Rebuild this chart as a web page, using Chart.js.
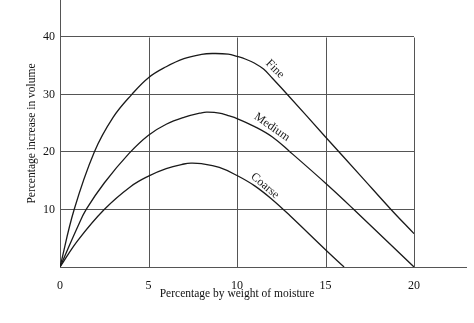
<!DOCTYPE html>
<html>
<head>
<meta charset="utf-8">
<script src="https://cdn.jsdelivr.net/npm/chart.js@4"></script>
<style>
  html, body { margin: 0; padding: 0; background: #fff; }
  canvas { display: block; }
</style>
</head>
<body>
<canvas id="chart" width="474" height="323"></canvas>
<script>
// axis ticks
const xTicks = [0, 5, 10, 15, 20];
const yTicks = [0, 10, 20, 30, 40];

// curves (moisture %, volume increase %)
const fineX = [0, 0.8, 1.94, 3, 4.06, 5, 6, 7, 8, 8.6, 9.5, 10, 10.5, 11, 11.5, 12, 12.87, 15, 17, 18.7, 20];
const fineY = [0, 10, 20, 26, 30, 32.9, 34.8, 36.2, 36.95, 37.1, 37.0, 36.6, 36.1, 35.4, 34.4, 32.8, 29.9, 22.6, 15.8, 10, 5.8];

const mediumX = [0, 1, 1.48, 2.5, 3.89, 5, 6, 7, 8, 8.3, 9, 9.5, 10, 11, 12, 13, 15.1, 16.6, 20];
const mediumY = [0, 7, 10, 14.6, 19.7, 22.9, 24.8, 26.0, 26.8, 26.9, 26.75, 26.3, 25.8, 24.4, 22.6, 20.0, 14.3, 10, 0];

const coarseX = [0, 1, 2.5, 4, 5, 6, 7, 7.4, 8, 9, 10, 11, 12, 13, 15, 16.05];
const coarseY = [0, 4.6, 10, 14.0, 15.8, 17.1, 17.9, 18.05, 17.95, 17.3, 15.9, 14.1, 11.7, 8.9, 3.0, 0];

const seriesNames = ['Fine', 'Medium', 'Coarse'];

const ink = '#1a1a1a';
const gridInk = '#555';
const serif = 'Liberation Serif';

const toPoints = (xs, ys) => xs.map((x, i) => ({ x: x, y: ys[i] }));

const makeSet = (name, xs, ys) => ({
    label: name,
    data: toPoints(xs, ys),
    borderColor: ink,
    borderWidth: 1.3,
    pointRadius: 0,
    fill: false,
    tension: 0.4
});

// grid only up to x=20 / y=40, axis lines run past them
const framePlugin = {
    id: 'frame',
    beforeDatasetsDraw(chart) {
        const { ctx, chartArea, scales: { x, y } } = chart;
        ctx.save();
        ctx.strokeStyle = gridInk;
        ctx.lineWidth = 1;
        const yTop = Math.round(y.getPixelForValue(yTicks[yTicks.length - 1])) + 0.5;
        const yBot = Math.round(y.getPixelForValue(0)) + 0.5;
        xTicks.slice(1).forEach(v => {
            const px = Math.round(x.getPixelForValue(v)) + 0.5;
            ctx.beginPath();
            ctx.moveTo(px, yTop);
            ctx.lineTo(px, yBot);
            ctx.stroke();
        });
        // x axis runs on past 20
        ctx.beginPath();
        ctx.moveTo(chartArea.right, yBot);
        ctx.lineTo(chartArea.right + 53, yBot);
        ctx.stroke();
        ctx.restore();
    },
    afterDatasetsDraw(chart, args, opts) {
        const { ctx, scales: { x, y } } = chart;
        ctx.save();
        ctx.fillStyle = ink;
        ctx.font = '12px "' + serif + '"';
        ctx.textAlign = 'center';
        ctx.textBaseline = 'middle';
        opts.labels.forEach(l => {
            ctx.save();
            ctx.translate(x.getPixelForValue(l.x), y.getPixelForValue(l.y));
            ctx.rotate(l.angle * Math.PI / 180);
            ctx.fillText(l.text, 0, 0);
            ctx.restore();
        });
        ctx.restore();
    }
};

const ctx = document.getElementById('chart').getContext('2d');
new Chart(ctx, {
    type: 'line',
    data: {
        datasets: [
            makeSet(seriesNames[0], fineX, fineY),
            makeSet(seriesNames[1], mediumX, mediumY),
            makeSet(seriesNames[2], coarseX, coarseY)
        ]
    },
    options: {
        responsive: false,
        animation: false,
        layout: { padding: { left: 0, right: 60, top: 0, bottom: 0 } },
        scales: {
            x: {
                type: 'linear',
                min: 0,
                max: 20,
                afterBuildTicks: s => { s.ticks = xTicks.map(v => ({ value: v })); },
                afterFit: s => { s.height = 56; },
                grid: { display: false },
                border: { display: true, color: gridInk, width: 1 },
                ticks: {
                    color: '#111',
                    padding: 4,
                    maxRotation: 0,
                    font: { family: serif, size: 12 }
                },
                title: {
                    display: true,
                    text: 'Percentage by weight of moisture',
                    color: '#111',
                    padding: { top: 0, bottom: 22 },
                    font: { family: serif, size: 11.5 }
                }
            },
            y: {
                min: 0,
                max: 46.4,
                afterBuildTicks: s => { s.ticks = yTicks.map(v => ({ value: v })); },
                afterFit: s => { s.width = 60; s.paddingTop = 0; s.paddingBottom = 0; },
                grid: { color: gridInk, lineWidth: 1, drawTicks: false },
                border: { display: true, color: gridInk, width: 1 },
                ticks: {
                    color: '#111',
                    padding: 5,
                    callback: v => (v === 0 ? '' : v),
                    font: { family: serif, size: 12 }
                },
                title: {
                    display: true,
                    text: 'Percentage increase in volume',
                    color: '#111',
                    padding: { top: 25, bottom: 0 },
                    font: { family: serif, size: 11.5 }
                }
            }
        },
        plugins: {
            legend: { display: false },
            tooltip: { enabled: false },
            frame: {
                labels: [
                    { text: seriesNames[0], x: 12.15, y: 34.4, angle: 45 },
                    { text: seriesNames[1], x: 11.98, y: 24.3, angle: 35 },
                    { text: seriesNames[2], x: 11.58, y: 14.1, angle: 40 }
                ]
            }
        }
    },
    plugins: [framePlugin]
});
</script>
</body>
</html>
